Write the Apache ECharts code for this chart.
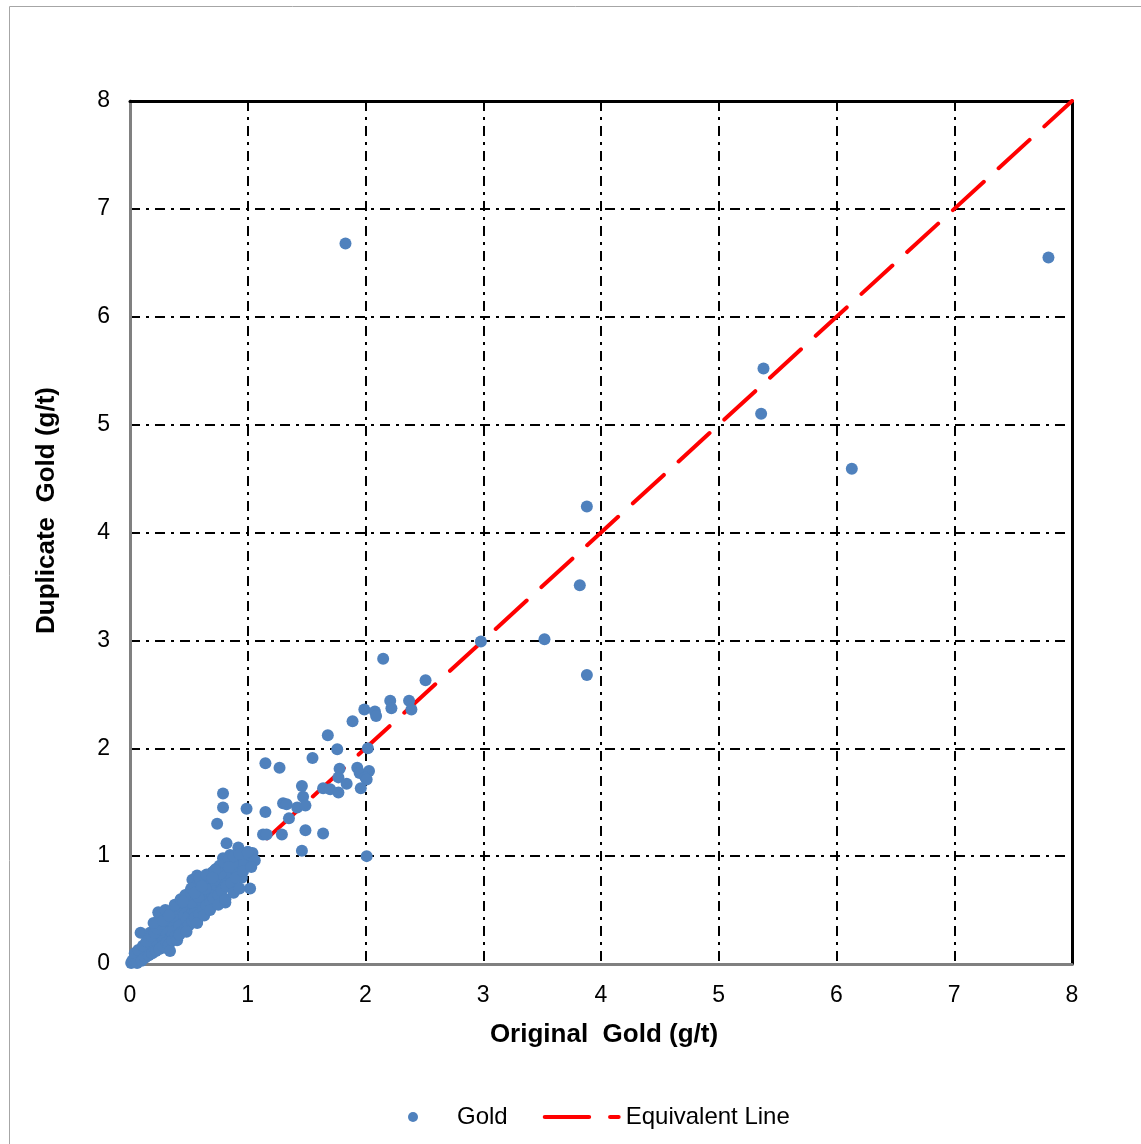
<!DOCTYPE html>
<html>
<head>
<meta charset="utf-8">
<script src="https://cdn.jsdelivr.net/npm/echarts@6/dist/echarts.min.js"></script>
<style>
  html, body { margin: 0; padding: 0; background: #fff; }
  #chart { width: 1141px; height: 1144px; }
</style>
</head>
<body>
<div id="chart"></div>
<script>
// original vs duplicate gold assays (g/t)
var originalGold = [
  0.01,0.02,0.02,0.03,0.03,0.04,0.05,0.05,0.06,0.07,0.08,0.08,0.09,0.10,0.11,0.12,0.12,0.13,0.14,0.15,
  0.16,0.17,0.18,0.19,0.20,0.20,0.21,0.22,0.23,0.24,0.25,0.25,0.26,0.27,0.28,0.29,0.30,0.30,0.31,0.32,
  0.33,0.34,0.34,0.35,0.36,0.37,0.38,0.38,0.39,0.40,0.41,0.41,0.42,0.43,0.44,0.45,0.45,0.46,0.47,0.48,
  0.49,0.50,0.51,0.52,0.53,0.53,0.54,0.55,0.56,0.57,0.57,0.57,0.58,0.59,0.60,0.61,0.62,0.63,0.64,0.65,
  0.66,0.67,0.68,0.69,0.70,0.71,0.72,0.73,0.74,0.75,0.76,0.77,0.78,0.79,0.80,0.81,0.81,0.82,0.83,0.85,
  0.86,0.88,0.90,0.92,0.95,0.97,1.00,1.02,1.04,1.06,1.02,0.95,0.79,0.85,0.93,0.96,0.82,0.92,0.74,0.79,
  0.79,0.99,0.09,0.17,0.24,0.15,0.22,0.28,0.35,0.42,0.48,0.33,0.40,0.55,0.62,0.68,0.50,0.60,0.70,0.36,
  0.18,0.27,0.44,0.52,0.58,0.64,0.72,0.77,0.87,0.98,
  0.04,0.06,0.07,0.10,0.11,0.13,0.14,0.16,0.18,0.19,0.21,0.22,0.23,0.25,0.26,0.28,0.29,0.31,0.32,0.33,
  0.35,0.36,0.37,0.39,0.40,0.42,0.43,0.44,0.46,0.47,0.49,0.50,0.51,0.53,0.54,0.55,0.57,0.59,0.60,0.62,
  0.63,0.65,0.66,0.68,0.70,0.71,0.73,0.75,0.76,0.78,0.80,0.82,0.84,0.86,0.88,0.90,0.93,0.96,1.00,1.03,
  0.25,0.30,0.38,0.43,0.47,0.52,0.59,0.65,0.72,0.20,0.34,0.40,0.42,0.48,0.57,0.63,0.68,0.75,0.81,0.88,
  0.93,0.28,0.33,0.45,0.55,0.61,0.70,0.84,
  1.83,7.80,5.38,5.36,6.13,3.88,3.82,3.52,3.88,2.98,2.15,2.51,2.21,2.22,2.37,2.39,1.99,2.08,2.09,1.89,
  1.68,1.76,2.02,1.55,1.15,1.27,1.78,1.93,1.95,2.03,2.00,2.01,1.96,1.77,1.46,1.84,1.64,1.70,1.77,1.47,
  1.30,1.33,1.42,1.49,1.15,1.35,1.49,1.64,1.13,1.16,1.29,1.46,2.01
];
var duplicateGold = [
  0.01,0.02,0.03,0.02,0.04,0.03,0.05,0.06,0.05,0.06,0.07,0.09,0.08,0.10,0.09,0.11,0.13,0.12,0.14,0.13,
  0.15,0.16,0.18,0.17,0.19,0.22,0.20,0.24,0.21,0.26,0.23,0.30,0.28,0.25,0.31,0.27,0.15,0.33,0.29,0.36,
  0.31,0.24,0.38,0.34,0.41,0.33,0.45,0.39,0.36,0.42,0.48,0.38,0.44,0.40,0.50,0.46,0.35,0.53,0.43,0.49,
  0.56,0.46,0.52,0.60,0.78,0.48,0.55,0.62,0.51,0.82,0.39,0.58,0.65,0.55,0.61,0.68,0.58,0.64,0.72,0.62,
  0.68,0.75,0.66,0.71,0.79,0.69,0.74,0.82,0.72,0.77,0.85,0.74,0.80,0.88,0.76,0.57,0.83,0.90,0.79,0.86,
  0.82,0.92,0.87,0.95,0.92,0.99,0.95,1.01,1.03,0.96,0.70,0.80,0.98,1.01,0.98,0.92,1.12,1.08,1.30,1.45,
  1.58,1.44,0.29,0.29,0.48,0.18,0.17,0.22,0.30,0.36,0.42,0.40,0.47,0.47,0.55,0.60,0.58,0.66,0.64,0.44,
  0.21,0.32,0.53,0.57,0.62,0.70,0.78,0.84,0.93,1.03,
  0.10,0.01,0.13,0.03,0.17,0.06,0.21,0.08,0.26,0.10,0.29,0.12,0.33,0.14,0.37,0.17,0.40,0.20,0.44,0.18,
  0.47,0.22,0.51,0.26,0.54,0.28,0.57,0.30,0.61,0.33,0.64,0.36,0.67,0.40,0.70,0.43,0.73,0.46,0.77,0.50,
  0.79,0.54,0.82,0.57,0.85,0.61,0.88,0.64,0.91,0.68,0.94,0.72,0.97,0.75,1.00,0.80,1.02,0.86,1.04,0.90,
  0.45,0.50,0.55,0.60,0.64,0.70,0.80,0.83,0.87,0.38,0.12,0.22,0.27,0.30,0.38,0.45,0.50,0.55,0.60,0.66,
  0.70,0.40,0.45,0.58,0.66,0.72,0.80,0.90,
  6.68,6.55,5.52,5.10,4.59,4.24,3.51,3.01,2.68,2.99,2.83,2.63,2.44,2.37,2.44,2.36,2.36,2.34,2.30,2.25,
  2.12,1.99,2.00,1.91,1.86,1.82,1.81,1.82,1.77,1.79,1.73,1.71,1.63,1.73,1.65,1.67,1.63,1.62,1.59,1.55,
  1.49,1.48,1.45,1.47,1.41,1.35,1.24,1.21,1.20,1.20,1.20,1.05,1.00
];
var equivalentLine = [[0, 0], [8, 8]];
var axisTicks = [0, 1, 2, 3, 4, 5, 6, 7, 8];

var goldPoints = originalGold.map(function (x, i) { return [x, duplicateGold[i]]; });

var font = '"Liberation Sans", Arial, sans-serif';
var gridDash = { color: '#000', width: 2, type: [10, 6, 3, 6] };

function valueAxis(pos, main) {
  return {
    type: 'value', position: pos, min: axisTicks[0], max: axisTicks[axisTicks.length - 1], interval: 1,
    axisLine: { show: true, onZero: false, lineStyle: { color: main ? '#808080' : '#000', width: 3 } },
    axisTick: { show: false },
    axisLabel: { show: main, color: '#000', fontSize: 23, fontFamily: font, margin: 20 },
    splitLine: { show: main, lineStyle: gridDash }
  };
}

var xMain = valueAxis('bottom', true);
xMain.name = 'Original  Gold (g/t)';
xMain.nameLocation = 'middle';
xMain.nameGap = 58;
xMain.nameTextStyle = { color: '#000', fontSize: 26, fontWeight: 'bold', fontFamily: font, padding: [0, 0, 0, 6] };
var yMain = valueAxis('left', true);
yMain.name = 'Duplicate  Gold (g/t)';
yMain.nameLocation = 'middle';
yMain.nameGap = 70;
yMain.nameTextStyle = { color: '#000', fontSize: 26, fontWeight: 'bold', fontFamily: font, padding: [0, 0, 0, 44] };

var chart = echarts.init(document.getElementById('chart'));
chart.setOption({
  backgroundColor: '#fff',
  animation: false,
  graphic: [{
    type: 'rect', left: 7, top: 4, silent: true,
    shape: { width: 1160, height: 1160 },
    style: { fill: 'none', stroke: '#a6a6a6', lineWidth: 1 }
  }],
  grid: { left: 130, top: 101, right: 69, bottom: 180 },
  xAxis: [xMain, valueAxis('top', false)],
  yAxis: [yMain, valueAxis('right', false)],
  legend: {
    bottom: 10, left: 403, itemGap: 35, itemWidth: 78, itemHeight: 10,
    textStyle: { color: '#000', fontSize: 24, fontFamily: font },
    data: [
      { name: 'Gold', icon: 'circle' },
      {
        name: 'Equivalent Line',
        icon: 'path://M2,0 H44 A2,2 0 0 1 44,4 H2 A2,2 0 0 1 2,0 Z M64,0 H72 A2,2 0 0 1 72,4 H64 A2,2 0 0 1 64,0 Z',
        itemStyle: { color: '#ff0000' }
      }
    ]
  },
  series: [
    {
      name: 'Equivalent Line', type: 'line', data: equivalentLine, symbol: 'none', z: 1,
      lineStyle: { color: '#ff0000', width: 4, type: [42, 20], cap: 'round' },
      itemStyle: { color: '#ff0000' }
    },
    {
      name: 'Gold', type: 'scatter', data: goldPoints, symbolSize: 12, z: 3,
      itemStyle: { color: '#4f81bd', opacity: 1 }
    }
  ]
});
</script>
</body>
</html>
